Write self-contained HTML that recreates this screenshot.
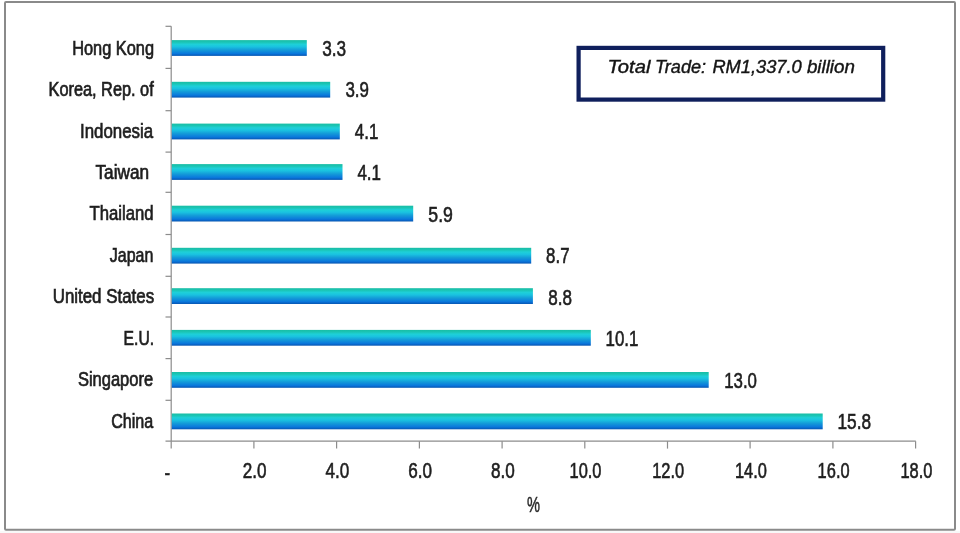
<!DOCTYPE html>
<html lang="en"><head><meta charset="utf-8"><title>Total Trade by Partner</title>
<style>
html,body{margin:0;padding:0;background:#fff;}
body{width:960px;height:533px;overflow:hidden;}
svg{display:block;}
text{font-family:"Liberation Sans",sans-serif;fill:#1e1e1e;stroke:#1e1e1e;stroke-width:0.45px;}
.c{font-size:21.2px;stroke-width:0.6px;}
.k{font-size:20.1px;stroke-width:0.7px;}
.it{font-family:"Liberation Sans",sans-serif;font-style:italic;font-size:18px;fill:#141414;stroke:#141414;stroke-width:0.4px;}
</style></head><body>
<svg width="960" height="533" viewBox="0 0 960 533">
<defs>
<linearGradient id="g" x1="0" y1="0" x2="0" y2="1">
<stop offset="0" stop-color="#19bda6"/><stop offset="0.12" stop-color="#1bc4b2"/><stop offset="0.27" stop-color="#1ed0d8"/><stop offset="0.42" stop-color="#1ac2e0"/><stop offset="0.62" stop-color="#149cd8"/><stop offset="0.85" stop-color="#0a78dc"/><stop offset="0.94" stop-color="#0862c4"/><stop offset="1" stop-color="#0858b0"/>
</linearGradient>
</defs>
<rect x="0" y="0" width="960" height="533" fill="#ffffff"/>
<rect x="0" y="531" width="960" height="2" fill="#f8f8f8"/>
<rect x="5" y="2" width="950" height="527.7" rx="1" fill="#ffffff" stroke="#8a8a8a" stroke-width="2"/>

<g stroke="#8c8c8c" stroke-width="1.2" fill="none">
<path d="M171.2 26.3V441.2"/>
<path d="M165.5 441.2H915.8"/>
<path d="M165.5 26.3H171.2"/>
<path d="M165.5 68.4H171.2"/>
<path d="M165.5 110.7H171.2"/>
<path d="M165.5 152.1H171.2"/>
<path d="M165.5 192.3H171.2"/>
<path d="M165.5 234.5H171.2"/>
<path d="M165.5 276.3H171.2"/>
<path d="M165.5 317.0H171.2"/>
<path d="M165.5 358.6H171.2"/>
<path d="M165.5 400.3H171.2"/>
<path d="M171.2 441.2V448.6"/>
<path d="M253.9 441.2V448.6"/>
<path d="M336.6 441.2V448.6"/>
<path d="M419.4 441.2V448.6"/>
<path d="M502.1 441.2V448.6"/>
<path d="M584.8 441.2V448.6"/>
<path d="M667.5 441.2V448.6"/>
<path d="M750.1 441.2V448.6"/>
<path d="M832.9 441.2V448.6"/>
<path d="M915.6 441.2V448.6"/>
</g>
<rect x="171.8" y="40.1" width="135.0" height="15.8" fill="url(#g)"/>
<rect x="171.8" y="81.8" width="158.4" height="15.8" fill="url(#g)"/>
<rect x="171.8" y="123.6" width="168.0" height="15.8" fill="url(#g)"/>
<rect x="171.8" y="164.1" width="170.7" height="15.8" fill="url(#g)"/>
<rect x="171.8" y="205.7" width="241.4" height="15.8" fill="url(#g)"/>
<rect x="171.8" y="247.8" width="359.4" height="15.8" fill="url(#g)"/>
<rect x="171.8" y="288.2" width="361.1" height="15.8" fill="url(#g)"/>
<rect x="171.8" y="329.9" width="419.0" height="15.8" fill="url(#g)"/>
<rect x="171.8" y="372.0" width="536.9" height="15.8" fill="url(#g)"/>
<rect x="171.8" y="413.5" width="650.9" height="15.8" fill="url(#g)"/>
<text class="k" x="72.2" y="54.6" textLength="81.9" lengthAdjust="spacingAndGlyphs">Hong Kong</text>
<text class="k" x="48.5" y="96.1" textLength="105.2" lengthAdjust="spacingAndGlyphs">Korea, Rep. of</text>
<text class="k" x="80.0" y="137.5" textLength="73.1" lengthAdjust="spacingAndGlyphs">Indonesia</text>
<text class="k" x="95.5" y="179.0" textLength="53.6" lengthAdjust="spacingAndGlyphs">Taiwan</text>
<text class="k" x="89.5" y="220.4" textLength="64.1" lengthAdjust="spacingAndGlyphs">Thailand</text>
<text class="k" x="109.8" y="261.9" textLength="43.5" lengthAdjust="spacingAndGlyphs">Japan</text>
<text class="k" x="52.7" y="303.4" textLength="101.4" lengthAdjust="spacingAndGlyphs">United States</text>
<text class="k" x="123.6" y="344.8" textLength="30.5" lengthAdjust="spacingAndGlyphs">E.U.</text>
<text class="k" x="77.9" y="386.3" textLength="75.2" lengthAdjust="spacingAndGlyphs">Singapore</text>
<text class="k" x="111.2" y="427.7" textLength="42.1" lengthAdjust="spacingAndGlyphs">China</text>
<text class="c" x="322.2" y="55.9" textLength="23.9" lengthAdjust="spacingAndGlyphs">3.3</text>
<text class="c" x="345.4" y="97.4" textLength="23.5" lengthAdjust="spacingAndGlyphs">3.9</text>
<text class="c" x="354.8" y="138.8" textLength="23.5" lengthAdjust="spacingAndGlyphs">4.1</text>
<text class="c" x="357.4" y="180.3" textLength="23.6" lengthAdjust="spacingAndGlyphs">4.1</text>
<text class="c" x="428.3" y="221.8" textLength="24.6" lengthAdjust="spacingAndGlyphs">5.9</text>
<text class="c" x="546.1" y="263.2" textLength="23.4" lengthAdjust="spacingAndGlyphs">8.7</text>
<text class="c" x="548.3" y="304.7" textLength="23.7" lengthAdjust="spacingAndGlyphs">8.8</text>
<text class="c" x="605.5" y="346.2" textLength="32.9" lengthAdjust="spacingAndGlyphs">10.1</text>
<text class="c" x="724.2" y="387.7" textLength="32.8" lengthAdjust="spacingAndGlyphs">13.0</text>
<text class="c" x="837.5" y="429.1" textLength="33.5" lengthAdjust="spacingAndGlyphs">15.8</text>
<text class="c" x="164.6" y="479.9" textLength="5.6" lengthAdjust="spacingAndGlyphs">-</text>
<text class="c" x="242.8" y="478.4" textLength="23.8" lengthAdjust="spacingAndGlyphs">2.0</text>
<text class="c" x="325.6" y="478.4" textLength="23.8" lengthAdjust="spacingAndGlyphs">4.0</text>
<text class="c" x="408.3" y="478.4" textLength="23.8" lengthAdjust="spacingAndGlyphs">6.0</text>
<text class="c" x="491.0" y="478.4" textLength="23.8" lengthAdjust="spacingAndGlyphs">8.0</text>
<text class="c" x="569.5" y="478.4" textLength="32.0" lengthAdjust="spacingAndGlyphs">10.0</text>
<text class="c" x="652.2" y="478.4" textLength="32.0" lengthAdjust="spacingAndGlyphs">12.0</text>
<text class="c" x="734.9" y="478.4" textLength="32.0" lengthAdjust="spacingAndGlyphs">14.0</text>
<text class="c" x="817.6" y="478.4" textLength="32.0" lengthAdjust="spacingAndGlyphs">16.0</text>
<text class="c" x="900.4" y="478.4" textLength="32.0" lengthAdjust="spacingAndGlyphs">18.0</text>
<text x="527.0" y="512.0" font-size="21.5" style="stroke-width:0.5px;fill:#2a2a2a;stroke:#2a2a2a" textLength="13" lengthAdjust="spacingAndGlyphs">%</text>
<rect x="578.6" y="47.9" width="304.6" height="51.7" fill="#ffffff" stroke="#0f1f5c" stroke-width="4.2"/>
<text class="it" y="72.8"><tspan x="607.4" textLength="43.0" lengthAdjust="spacingAndGlyphs">Total</tspan> <tspan x="655.1" textLength="51.0" lengthAdjust="spacingAndGlyphs">Trade:</tspan> <tspan x="712.4" textLength="89.4" lengthAdjust="spacingAndGlyphs">RM1,337.0</tspan> <tspan x="806.9" textLength="48.0" lengthAdjust="spacingAndGlyphs">billion</tspan></text>
</svg></body></html>
